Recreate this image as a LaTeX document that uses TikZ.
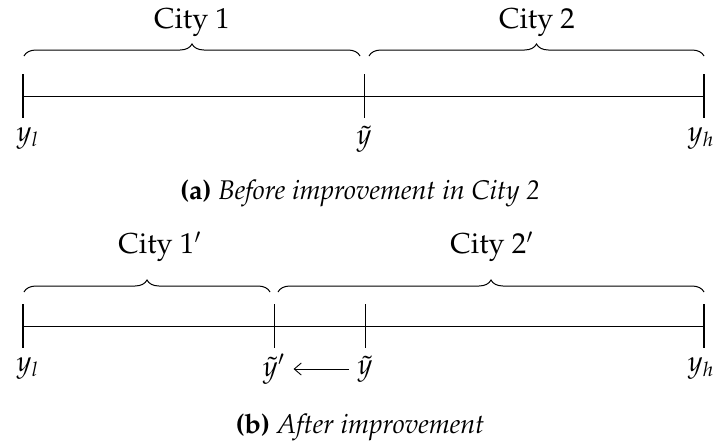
\documentclass[tikz,border=0pt]{standalone}
\usepackage[T1]{fontenc}
\usepackage{mathpazo}
\usetikzlibrary{decorations.pathreplacing,arrows.meta}
\tikzset{
  axis/.style={line width=0.4pt},
  endtick/.style={line width=1.1pt},
  midtick/.style={line width=0.45pt},
  citybrace/.style={line width=0.5pt,decorate,decoration={brace,amplitude=6pt}},
  lbl/.style={inner sep=0pt,font=\fontsize{14.4}{17}\selectfont},
  caplbl/.style={inner sep=0pt,font=\fontsize{13.5}{16}\selectfont},
  movearrow/.style={line width=0.45pt,-{Straight Barb[length=3.5pt,width=6pt]}}
}
\begin{document}
\begin{tikzpicture}[x=0.5pt,y=0.5pt]
\useasboundingbox (0,0) rectangle (719,447);

% --- panel (a): before improvement
\coordinate (aL) at (23,351);
\coordinate (aM) at (364,351);
\coordinate (aR) at (704,351);
\draw[axis] (aL) -- (aR);
\draw[endtick] ([yshift=11pt]aL) -- ([yshift=-11pt]aL);
\draw[midtick] ([yshift=11pt]aM) -- ([yshift=-11pt]aM);
\draw[endtick] ([yshift=11pt]aR) -- ([yshift=-11pt]aR);
\draw[citybrace] (24,391) -- (360,391);
\draw[citybrace] (369,391) -- (704,391);
\node[lbl] (c1) at (192,424) {City 1};
\node[lbl] (c2) at (537,424) {City 2};
\node[lbl] (ylA) at (28,308) {$y_l$};
\node[lbl] (tyA) at (364,308) {$\tilde y$};
\node[lbl] (yhA) at (701,308) {$y_h$};
\node[caplbl] (capA) at (360,254) {\textbf{(a)} \textit{Before improvement in City 2}};

% --- panel (b): after improvement
\coordinate (bL) at (23,121);
\coordinate (bN) at (274,121);
\coordinate (bM) at (365,121);
\coordinate (bR) at (704,121);
\draw[axis] (bL) -- (bR);
\draw[endtick] ([yshift=11pt]bL) -- ([yshift=-11pt]bL);
\draw[midtick] ([yshift=11pt]bN) -- ([yshift=-11pt]bN);
\draw[midtick] ([yshift=11pt]bM) -- ([yshift=-11pt]bM);
\draw[endtick] ([yshift=11pt]bR) -- ([yshift=-11pt]bR);
\draw[citybrace] (24,155) -- (270,155);
\draw[citybrace] (278,155) -- (704,155);
\node[lbl] (c1p) at (160,200) {City $1'$};
\node[lbl] (c2p) at (492,200) {City $2'$};
\node[lbl] (ylB) at (28,78) {$y_l$};
\node[lbl] (typB) at (274,78) {$\tilde y'$};
\node[lbl] (tyB) at (365,78) {$\tilde y$};
\node[lbl] (yhB) at (701,78) {$y_h$};
\draw[movearrow] ([xshift=-4pt]tyB.west) -- ([xshift=4pt]typB.east);
\node[caplbl] (capB) at (360,20) {\textbf{(b)} \textit{After improvement}};
\end{tikzpicture}
\end{document}
